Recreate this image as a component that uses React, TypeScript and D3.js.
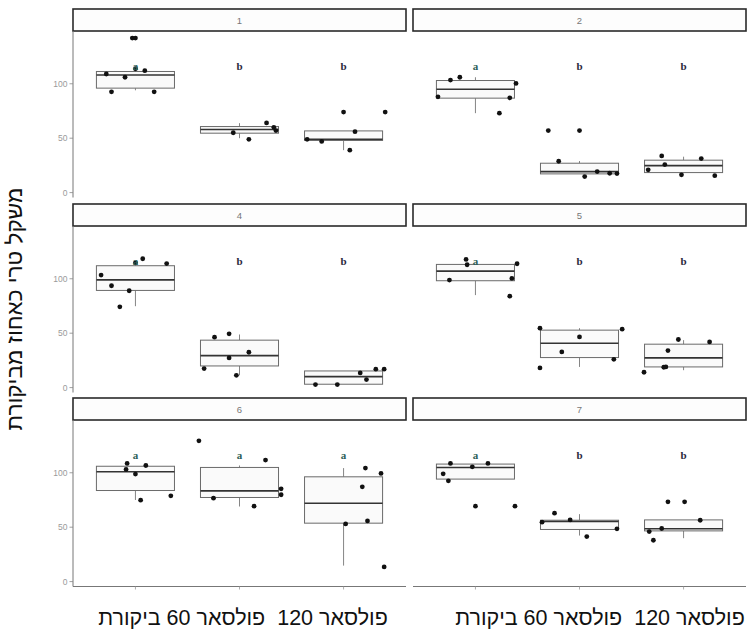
import React from "react";
import * as d3 from "d3";

// Facet labels (trial number) in reading order, two per row
const panels = ["1", "2", "4", "5", "6", "7"];
// Treatments, left to right on the x axis
const groups = ["ביקורת", "פולסאר 60", "פולסאר 120"];
const yTicks = [0, 50, 100];
const yTitle = "משקל טרי כאחוז מביקורת";
const xCaption = "פולסאר 120  פולסאר 60 ביקורת";

// Box statistics per panel and treatment: [lower whisker, Q1, median, Q3, upper whisker]
const boxStats: number[][][] = [
  [[94, 96, 108, 111.3, 114], [50, 54.6, 58, 60.7, 63.8], [39, 47.9, 49, 56.7, 56.7]],
  [[73, 86.8, 95, 103, 106], [17.2, 17.2, 19.3, 27, 29], [18.4, 18.4, 24.8, 29.8, 33]],
  [[74.8, 89.3, 99, 112, 112], [11.3, 19.9, 29.4, 43.6, 48.8], [3.1, 3.1, 10.1, 15.3, 15.3]],
  [[85, 98.2, 107, 113.2, 113.2], [19, 27.6, 40.8, 52.8, 54.6], [16, 19, 27.3, 39.9, 43.6]],
  [[75, 83.7, 101, 106, 106], [69, 77.3, 83.4, 104.9, 106.7], [14.7, 53.7, 72, 96.3, 104.3]],
  [[94.2, 94.2, 104.9, 108, 108], [42.3, 47.9, 55.2, 56.4, 62], [39.9, 46.6, 48.5, 56.7, 56.7]],
];

// Individual observations: [treatment index, horizontal jitter, value]
const points: number[][][] = [
  [
    [0, -0.28, 109], [0, -0.1, 106], [0, 0, 113.8], [0, 0.09, 112], [0, -0.23, 92.6], [0, 0.18, 92.6],
    [0, -0.03, 142], [0, 0.0, 142],
    [1, -0.06, 55], [1, 0.09, 49], [1, 0.26, 64], [1, 0.33, 60], [1, 0.35, 57],
    [2, -0.35, 49], [2, -0.21, 47], [2, 0, 74], [2, 0.11, 56], [2, 0.06, 39], [2, 0.4, 74],
  ],
  [
    [0, -0.24, 103.4], [0, -0.15, 106], [0, -0.36, 88], [0, 0.39, 100.3], [0, 0.33, 87.1], [0, 0.23, 73],
    [1, -0.3, 57], [1, 0, 57], [1, -0.2, 28.8], [1, 0.05, 14.7], [1, 0.17, 19.3], [1, 0.29, 17.8], [1, 0.36, 17.5],
    [2, -0.21, 33.7], [2, -0.18, 25.8], [2, -0.34, 20.9], [2, 0.17, 31.3], [2, -0.02, 16.3], [2, 0.3, 15.6],
  ],
  [
    [0, -0.33, 103.4], [0, -0.23, 93.6], [0, -0.06, 89], [0, -0.15, 74.2], [0, 0, 114.7], [0, 0.07, 118.4], [0, 0.3, 114],
    [1, -0.24, 46.3], [1, -0.1, 49.4], [1, -0.34, 17.5], [1, -0.1, 27.3], [1, 0.09, 32.5], [1, -0.03, 11.3],
    [2, -0.27, 2.8], [2, -0.06, 2.8], [2, 0.16, 13.5], [2, 0.22, 7.4], [2, 0.31, 16.9], [2, 0.39, 16.9],
  ],
  [
    [0, -0.09, 117.8], [0, -0.08, 112.9], [0, 0.4, 113.8], [0, -0.25, 98.8], [0, 0.35, 100.3], [0, 0.33, 84],
    [1, -0.38, 54.6], [1, 0.41, 53.7], [1, 0, 46.6], [1, -0.17, 32.8], [1, 0.33, 26], [1, -0.38, 18.1],
    [2, -0.05, 44.2], [2, 0.25, 42], [2, -0.15, 34], [2, -0.19, 18.7], [2, -0.17, 19], [2, -0.38, 14.1],
  ],
  [
    [0, -0.08, 108.6], [0, -0.09, 103], [0, 0, 98.8], [0, 0.1, 106.7], [0, 0.05, 74.8], [0, 0.34, 78.8],
    [1, -0.39, 129.4], [1, 0.25, 111.7], [1, -0.25, 76.7], [1, 0.14, 69.3], [1, 0.4, 85.3], [1, 0.4, 79.8],
    [2, 0.21, 104.3], [2, 0.36, 99.4], [2, 0.18, 87.1], [2, 0.02, 53], [2, 0.23, 55.8], [2, 0.39, 13.5],
  ],
  [
    [0, -0.24, 108.6], [0, -0.31, 99], [0, -0.26, 92.6], [0, -0.03, 105.5], [0, 0.12, 108.6], [0, 0, 69.3], [0, 0.38, 69.3],
    [1, -0.24, 62.9], [1, -0.36, 54.6], [1, -0.09, 56.7], [1, 0.07, 41.4], [1, 0.36, 48.5],
    [2, -0.15, 73.3], [2, 0.01, 73.3], [2, -0.33, 46], [2, -0.21, 48.8], [2, -0.29, 38], [2, 0.16, 56.4],
  ],
];

// Significance letters above each treatment
const letters = [
  ["a", "b", "b"],
  ["a", "b", "b"],
  ["a", "b", "b"],
  ["a", "b", "b"],
  ["a", "a", "a"],
  ["a", "b", "b"],
];
const letterValue = 113;

const W = 752;
const H = 630;
const colX = [73, 413];
const panelW = 333;
const stripTop = [9, 204, 398];
const stripH = 22;
const plotH = 166.5;
const boxWidth = 0.75;
const sans = "'Liberation Sans', Arial, sans-serif";

function Panel({ idx }: { idx: number }) {
  const col = idx % 2;
  const row = Math.floor(idx / 2);
  const x0 = colX[col];
  const top = stripTop[row] + stripH;
  const bottom = top + plotH;
  const x = d3.scaleLinear().domain([0.4, 3.6]).range([x0, x0 + panelW]);
  const y = d3.scaleLinear().domain([-4.5, 148.5]).range([bottom, top]);
  const half = boxWidth / 2;

  return (
    <g>
      <rect x={x0} y={stripTop[row]} width={panelW} height={stripH} fill="#fdfdfd" stroke="#2a2a2a" strokeWidth={1.6} />
      <text x={x0 + panelW / 2} y={stripTop[row] + stripH / 2 + 3.5} textAnchor="middle" fontSize={9.5} fill="#777" fontFamily={sans}>
        {panels[idx]}
      </text>

      {col === 0 && (
        <g>
          <line x1={x0} x2={x0} y1={top} y2={bottom} stroke="#777" strokeWidth={1} />
          {yTicks.map((t) => (
            <g key={t}>
              <line x1={x0 - 3.5} x2={x0} y1={y(t)} y2={y(t)} stroke="#888" strokeWidth={0.8} />
              <text x={x0 - 5.5} y={y(t) + 3} textAnchor="end" fontSize={8.5} fill="#9a9a9a" fontFamily={sans}>
                {t}
              </text>
            </g>
          ))}
        </g>
      )}
      {row === 2 && (
        <g>
          <line x1={x0} x2={x0 + panelW} y1={bottom} y2={bottom} stroke="#777" strokeWidth={1} />
          {groups.map((g, i) => (
            <line key={g} x1={x(i + 1)} x2={x(i + 1)} y1={bottom} y2={bottom + 3} stroke="#999" strokeWidth={0.8} />
          ))}
        </g>
      )}

      {boxStats[idx].map((s, i) => {
        const c = i + 1;
        const [lw, q1, med, q3, uw] = s;
        return (
          <g key={i}>
            <line x1={x(c)} x2={x(c)} y1={y(q3)} y2={y(uw)} stroke="#777" strokeWidth={0.9} />
            <line x1={x(c)} x2={x(c)} y1={y(q1)} y2={y(lw)} stroke="#777" strokeWidth={0.9} />
            <rect
              x={x(c - half)}
              y={y(q3)}
              width={x(c + half) - x(c - half)}
              height={y(q1) - y(q3)}
              fill="#fafafa"
              stroke="#6a6a6a"
              strokeWidth={1}
            />
            <line x1={x(c - half)} x2={x(c + half)} y1={y(med)} y2={y(med)} stroke="#333" strokeWidth={1.6} />
          </g>
        );
      })}

      {points[idx].map((p, i) => (
        <circle key={i} cx={x(p[0] + 1 + p[1])} cy={y(p[2])} r={2.4} fill="#111" />
      ))}

      {letters[idx].map((l, i) => (
        <text
          key={i}
          x={x(i + 1)}
          y={y(letterValue)}
          textAnchor="middle"
          fontSize={11}
          fontWeight="bold"
          fontFamily="'Liberation Serif', 'Times New Roman', serif"
          fill={l === "a" ? "#2e5f58" : "#2a2a3c"}
        >
          {l}
        </text>
      ))}
    </g>
  );
}

export default function App() {
  return (
    <svg width={W} height={H} style={{ position: "absolute", left: 0, top: 0, background: "#fff" }}>
      <rect x={0} y={0} width={W} height={H} fill="#fff" />
      {panels.map((p, i) => (
        <Panel key={p} idx={i} />
      ))}
      <text
        transform={`translate(22, 309) rotate(-90)`}
        textAnchor="middle"
        fontSize={22.5}
        fill="#111"
        fontFamily={sans}
      >
        {yTitle}
      </text>
      {colX.map((cx, i) => (
        <text
          key={i}
          x={i === 0 ? 243 : 600}
          y={625}
          textAnchor="middle"
          fontSize={21.5}
          fill="#111"
          fontFamily={sans}
          style={{ whiteSpace: "pre" }}
        >
          {xCaption}
        </text>
      ))}
    </svg>
  );
}
